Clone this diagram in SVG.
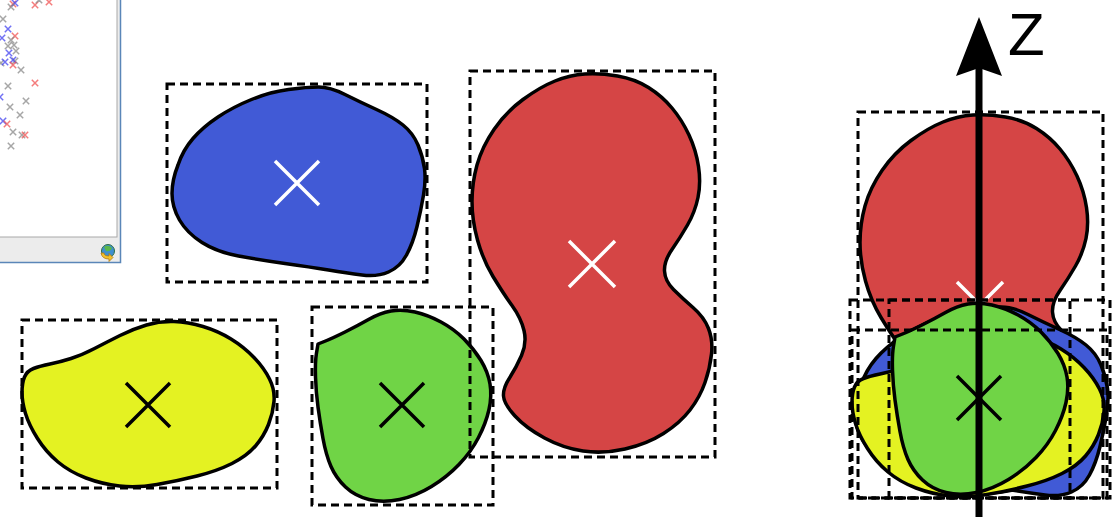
<svg xmlns="http://www.w3.org/2000/svg" xmlns:xlink="http://www.w3.org/1999/xlink" width="1112" height="517" viewBox="0 0 1112 517">
<style>
.blob{stroke:#000;stroke-width:3.5;stroke-linejoin:round}
.box{fill:none;stroke:#000;stroke-width:3;stroke-dasharray:8 5}
.xw{stroke:#fff;stroke-width:3.5;fill:none}
.xb{stroke:#000;stroke-width:3.5;fill:none}
.pr{stroke:#f05050;stroke-width:1.5;opacity:0.75;fill:none}
.pb{stroke:#4040f0;stroke-width:1.5;opacity:0.75;fill:none}
.pg{stroke:#888;stroke-width:1.5;opacity:0.75;fill:none}
</style>
<defs>
<path id="pBlue" d="M 178,165 Q 183,150 193,138.5 Q 203,127 218,117 Q 233,107 251.5,99.5 Q 270,92 288.5,89.5 Q 307,87 318.5,87 Q 330,87 345,94.5 Q 360,102 376.5,109.5 Q 393,117 403,125 Q 413,133 418,145 Q 423,157 424.5,168.5 Q 426,180 423.5,195 Q 421,210 417,226.5 Q 413,243 406.5,255 Q 400,267 388.5,272 Q 377,277 362,275 Q 347,273 328.5,270 Q 310,267 285,263.5 Q 260,260 238.5,256 Q 217,252 202,242.5 Q 187,233 179.5,220 Q 172,207 172,193.5 Q 172,180 178,165 Z"/>
<path id="pRed" d="M 585,74 Q 600,73 617.5,76 Q 635,79 648.5,87.5 Q 662,96 672,108 Q 682,120 689,135 Q 696,150 698.5,166.5 Q 701,183 698,197.5 Q 695,212 687.5,225 Q 680,238 672,249.5 Q 664,261 664.5,271 Q 665,281 673.5,289.5 Q 682,298 693,307.5 Q 704,317 708.5,328.5 Q 713,340 711.5,354 Q 710,368 705,382.5 Q 700,397 690,410 Q 680,423 663.5,433.5 Q 647,444 625,449 Q 603,454 583,451 Q 563,448 544.5,438 Q 526,428 515,416 Q 504,404 503.5,396 Q 503,388 509.5,378 Q 516,368 521.5,355.5 Q 527,343 524,330.5 Q 521,318 512,305.5 Q 503,293 493,276.5 Q 483,260 477.5,240 Q 472,220 472,201.5 Q 472,183 477,165 Q 482,147 494,129.5 Q 506,112 523,99.5 Q 540,87 555,81 Q 570,75 585,74 Z"/>
<path id="pYellow" d="M 22,392.5 Q 22,383 24.5,377 Q 27,371 33.5,368.5 Q 40,366 50,364 Q 60,362 71,358.5 Q 82,355 94.5,348.5 Q 107,342 120,335.5 Q 133,329 146.5,325 Q 160,321 174,321.5 Q 188,322 203,326.5 Q 218,331 231,339 Q 244,347 254,357.5 Q 264,368 269.5,379 Q 275,390 274,401.5 Q 273,413 268.5,424.5 Q 264,436 255.5,446 Q 247,456 232,463.5 Q 217,471 197,476 Q 177,481 157,484.5 Q 137,488 119.5,486 Q 102,484 86,478 Q 70,472 58,462 Q 46,452 37.5,438.5 Q 29,425 25.5,413.5 Q 22,402 22,392.5 Z"/>
<path id="pGreen" d="M 318,344 L 325.5,341 Q 333,338 345,332 Q 357,326 368.5,319.5 Q 380,313 391,311 Q 402,309 415,312 Q 428,315 441,322 Q 454,329 464,339 Q 474,349 481,360.5 Q 488,372 490,384 Q 492,396 489,409.5 Q 486,423 478.5,437.5 Q 471,452 459,464.5 Q 447,477 431.5,486.5 Q 416,496 399.5,499.5 Q 383,503 369,499.5 Q 355,496 345.5,487 Q 336,478 331,466.5 Q 326,455 323,438.5 Q 320,422 318,407 Q 316,392 315.5,377 Q 315,362 316.5,353 Z"/>
<path id="m" d="M-3.2,-3.2 L3.2,3.2 M3.2,-3.2 L-3.2,3.2"/>
</defs>

<g id="window">
<rect x="0" y="0" width="121" height="263" fill="#ececec"/>
<rect x="-1" y="-1" width="118" height="238" fill="#fff" stroke="#a8a8a8" stroke-width="1"/>
<path d="M120.5,0 V262.5 H0" fill="none" stroke="#5a86b8" stroke-width="1.5"/>
<g id="icon">
<circle cx="108" cy="251" r="6.5" fill="#3f8fd0" stroke="#2e6e40" stroke-width="1"/>
<path d="M104,247 Q108,244 112,248 Q110,252 106,251 Z" fill="#5cb84a"/>
<path d="M101,253 Q102,259 109,259 L109,261.5 L113,257.5 L109,253.5 L109,256 Q104,256 104,253 Z" fill="#f2c12e" stroke="#b07a10" stroke-width="0.8"/>
</g>
<g id="scatter">
<use href="#m" x="13" y="4" class="pr"/><use href="#m" x="15" y="3" class="pb"/><use href="#m" x="11" y="7" class="pg"/>
<use href="#m" x="35" y="5" class="pr"/><use href="#m" x="49" y="2" class="pr"/><use href="#m" x="39" y="0" class="pg"/>
<use href="#m" x="3" y="19" class="pg"/><use href="#m" x="8" y="29" class="pb"/><use href="#m" x="2" y="38" class="pb"/>
<use href="#m" x="15" y="36" class="pr"/><use href="#m" x="11" y="40" class="pg"/><use href="#m" x="8" y="46" class="pg"/>
<use href="#m" x="14" y="45" class="pg"/><use href="#m" x="16" y="51" class="pg"/><use href="#m" x="9" y="53" class="pb"/>
<use href="#m" x="1" y="63" class="pg"/><use href="#m" x="5" y="62" class="pb"/><use href="#m" x="15" y="61" class="pg"/>
<use href="#m" x="13" y="60" class="pb"/><use href="#m" x="13" y="65" class="pr"/><use href="#m" x="21" y="70" class="pg"/>
<use href="#m" x="35" y="83" class="pr"/><use href="#m" x="8" y="86" class="pg"/><use href="#m" x="0" y="97" class="pb"/>
<use href="#m" x="26" y="101" class="pg"/><use href="#m" x="10" y="107" class="pg"/><use href="#m" x="20" y="115" class="pg"/>
<use href="#m" x="3" y="121" class="pb"/><use href="#m" x="7" y="124" class="pr"/><use href="#m" x="13" y="132" class="pg"/>
<use href="#m" x="22" y="135" class="pg"/><use href="#m" x="25" y="135" class="pr"/><use href="#m" x="11" y="146" class="pg"/>
</g>
</g>

<g id="blue">
<use href="#pBlue" class="blob" fill="#415ad6"/>
<path class="xw" d="M275,161 L319,205 M319,161 L275,205"/>
</g>
<g id="red">
<use href="#pRed" class="blob" fill="#d54545"/>
<path class="xw" d="M569,241 L615,287 M615,241 L569,287"/>
</g>
<g id="yellow">
<use href="#pYellow" class="blob" fill="#e4f222"/>
<path class="xb" d="M126,383 L170,427 M170,383 L126,427"/>
</g>
<g id="green">
<use href="#pGreen" class="blob" fill="#70d446"/>
<path class="xb" d="M380,383 L424,427 M424,383 L380,427"/>
</g>
<g id="boxes">
<rect class="box" x="167" y="84" width="260" height="198"/>
<rect class="box" x="470" y="71" width="245" height="386"/>
<rect class="box" x="22" y="320" width="255" height="168"/>
<rect class="box" x="312" y="307" width="181" height="198"/>
</g>

<g id="stack">
<g transform="translate(388,41)">
<use href="#pRed" class="blob" fill="#d54545"/>
<path class="xw" d="M569,241 L615,287 M615,241 L569,287"/>
</g>
<g transform="translate(683,220)">
<use href="#pBlue" class="blob" fill="#415ad6"/>
</g>
<g transform="translate(830,10)">
<use href="#pYellow" class="blob" fill="#e4f222"/>
</g>
<g transform="translate(577,-7)">
<use href="#pGreen" class="blob" fill="#70d446"/>
<path class="xb" d="M380,383 L424,427 M424,383 L380,427"/>
</g>
<rect class="box" x="858" y="112" width="245" height="386"/>
<rect class="box" x="850" y="300" width="260" height="198"/>
<rect class="box" x="852" y="330" width="255" height="168"/>
<rect class="box" x="889" y="300" width="181" height="198"/>
</g>

<g id="axis">
<line x1="979" y1="66" x2="979" y2="517" stroke="#000" stroke-width="7"/>
<path d="M979,17 L1002,76 L979,68 L956,76 Z" fill="#000"/>
<text x="1008" y="55" font-family="Liberation Sans, Arial, sans-serif" font-size="60" fill="#000">Z</text>
</g>
</svg>
